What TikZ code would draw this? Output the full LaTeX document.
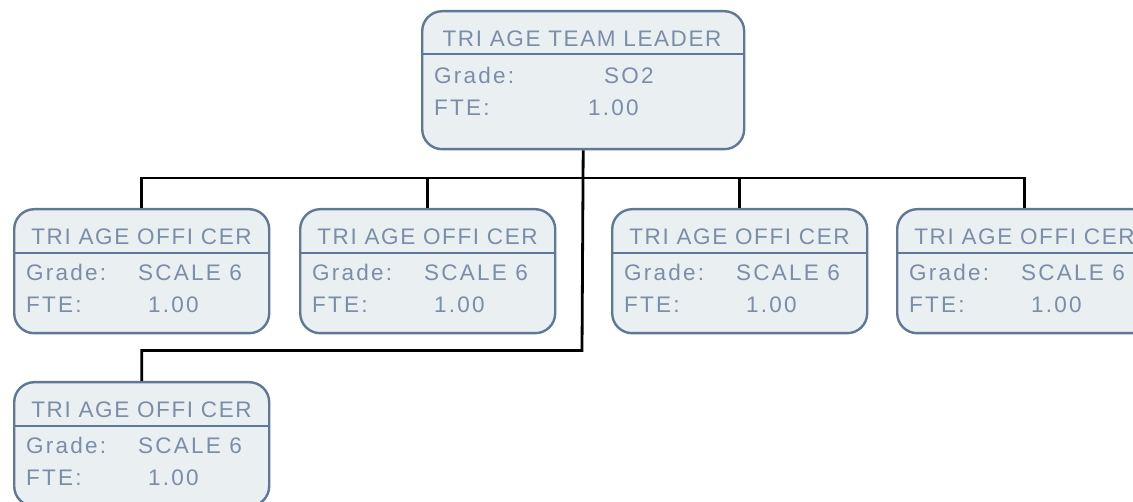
\documentclass[tikz,border=0pt]{standalone}
\usepackage{fontspec}
\setmainfont{Liberation Sans}
\newfontfamily\bodyfont{Liberation Sans}[LetterSpace=10]
\newfontfamily\titlefont{Liberation Sans}[LetterSpace=7]
\definecolor{boxfill}{RGB}{234,239,242}
\definecolor{boxline}{RGB}{95,120,152}
\definecolor{boxtext}{RGB}{122,142,168}
\tikzset{
  orgbox/.style={draw=boxline, fill=boxfill, line width=2.4pt, rounded corners=20pt,
    rectangle, inner sep=0pt, anchor=north west},
  divider/.style={draw=boxline, line width=2pt},
  lbl/.style={inner sep=0pt, anchor=base west, text=boxtext, font=\bodyfont\fontsize{22.5}{26}\selectfont},
  ttl/.style={inner sep=0pt, anchor=base, text=boxtext, font=\titlefont\fontsize{22.5}{26}\selectfont},
  link/.style={draw=black, line width=2.8pt},
}
\newcommand{\officerbox}[3]{%
  \node[orgbox, minimum width=255pt, minimum height=124pt] (#1) at (#2,#3) {};
  \draw[divider] (#2,#3+45) -- (#2+255,#3+45);
  \node[ttl] (#1t) at (#2+128.5,#3+36.5) {TRI AGE OFFI CER};
  \node[lbl] (#1g) at (#2+13,#3+72.5) {Grade:};
  \node[lbl] (#1gv) at (#2+125,#3+72.5) {SCALE 6};
  \node[lbl] (#1f) at (#2+13,#3+104.5) {FTE:};
  \node[lbl] (#1fv) at (#2+135,#3+104.5) {1.00};
}
\begin{document}
\begin{tikzpicture}[x=1pt, y=-1pt]
\useasboundingbox (0,0) rectangle (1133,502);
\clip (0,0) rectangle (1133,502);
% connectors (behind boxes)
\coordinate (bus) at (582,178);
\coordinate (elbow) at (582,350.5);
% leader
\node[orgbox, minimum width=322pt, minimum height=138pt] (lead) at (421,10) {};
\draw[divider] (421,54) -- (743,54);
\node[ttl] (leadt) at (582,47) {TRI AGE TEAM LEADER};
\node[lbl] (leadg) at (434,83.5) {Grade:};
\node[lbl] (leadgv) at (604,83.5) {SO2};
\node[lbl] (leadf) at (434,115.5) {FTE:};
\node[lbl] (leadfv) at (588,115.5) {1.00};
% officers
\officerbox{o1}{13}{208}
\officerbox{o2}{299}{208}
\officerbox{o3}{611}{208}
\officerbox{o4}{896}{208}
\officerbox{o5}{13}{381}
% connectors
\draw[link] (o1.north) |- (bus) -| (o4.north);
\draw[link] (o2.north) -- (o2.north |- bus);
\draw[link] (o3.north) -- (o3.north |- bus);
\draw[link] (lead.south) -- (elbow) -| (o5.north);
\end{tikzpicture}
\end{document}
